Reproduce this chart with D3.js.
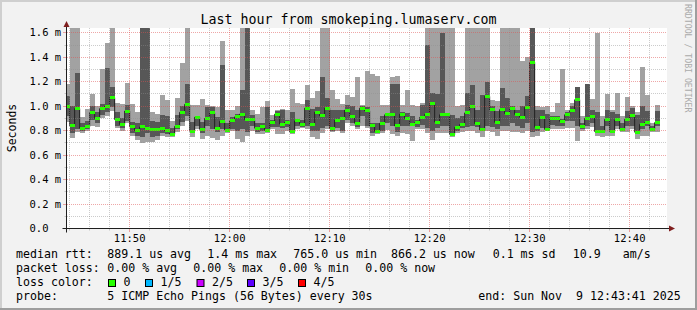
<!DOCTYPE html>
<html>
<head>
<meta charset="utf-8">
<script src="https://cdn.jsdelivr.net/npm/d3@7"></script>
<style>
  html, body { margin: 0; padding: 0; background: #f2f2f2; }
  svg { display: block; }
  text { font-family: "DejaVu Sans Mono", monospace; fill: #000; }
</style>
</head>
<body>
<div id="chart"></div>
<script>
// 5 sorted pings per 30s sample (ms), first sample ends 11:44:00
const ping1 = [
  0.87, 0.74, 0.79, 0.78, 0.80, 0.84, 0.83, 0.90, 0.92, 0.96,
  0.82, 0.80, 0.86, 0.76, 0.72, 0.70, 0.71, 0.71, 0.72, 0.76,
  0.75, 0.75, 0.79, 0.84, 0.88, 0.75, 0.81, 0.735, 0.76, 0.74,
  0.725, 0.76, 0.78, 0.80, 0.73, 0.71, 0.76, 0.80, 0.77, 0.77,
  0.78, 0.81, 0.77, 0.77, 0.80, 0.77, 0.81, 0.82, 0.81, 0.75,
  0.735, 0.78, 0.81, 0.79, 0.80, 0.78, 0.865, 0.84, 0.81, 0.84,
  0.825, 0.757, 0.77, 0.78, 0.805, 0.77, 0.757, 0.78, 0.77, 0.716,
  0.81, 0.81, 0.78, 0.725, 0.78, 0.78, 0.78, 0.75, 0.78, 0.79,
  0.80, 0.80, 0.78, 0.745, 0.80, 0.79, 0.76, 0.80, 0.80, 0.79,
  0.79, 0.78, 0.80, 0.75, 0.76, 0.79, 0.80, 0.81, 0.81, 0.81,
  0.82, 0.82, 0.716, 0.80, 0.81, 0.83, 0.76, 0.75, 0.76, 0.76,
  0.81, 0.79, 0.79, 0.81, 0.73, 0.76, 0.76, 0.79, 0.79
];
const ping2 = [
  0.92, 0.78, 0.81, 0.80, 0.81, 0.89, 0.86, 0.93, 0.95, 0.99,
  0.84, 0.82, 0.88, 0.78, 0.76, 0.75, 0.78, 0.75, 0.76, 0.78,
  0.77, 0.76, 0.81, 0.87, 0.92, 0.79, 0.84, 0.78, 0.84, 0.81,
  0.79, 0.81, 0.79, 0.81, 0.80, 0.81, 0.79, 0.84, 0.79, 0.80,
  0.785, 0.83, 0.83, 0.82, 0.83, 0.785, 0.84, 0.83, 0.84, 0.80,
  0.80, 0.82, 0.84, 0.80, 0.82, 0.80, 0.89, 0.86, 0.83, 0.92,
  0.84, 0.78, 0.78, 0.80, 0.865, 0.84, 0.79, 0.84, 0.84, 0.84,
  0.83, 0.85, 0.82, 0.80, 0.82, 0.84, 0.84, 0.76, 0.80, 0.82,
  0.83, 0.84, 0.83, 0.80, 0.84, 0.83, 0.81, 0.84, 0.84, 0.86,
  0.84, 0.82, 0.86, 0.79, 0.80, 0.82, 0.81, 0.85, 0.84, 0.84,
  0.88, 0.88, 0.84, 0.81, 0.84, 0.86, 0.79, 0.79, 0.84, 0.78,
  0.84, 0.80, 0.84, 0.84, 0.78, 0.81, 0.84, 0.80, 0.84
];
const median = [
  1.00, 0.84, 0.98, 0.82, 0.83, 0.95, 0.90, 0.98, 1.00, 1.07,
  0.89, 0.85, 0.96, 0.83, 0.80, 0.83, 0.82, 0.81, 0.81, 0.82,
  0.80, 0.77, 0.835, 0.95, 1.015, 0.795, 0.91, 0.81, 0.90, 0.946,
  0.816, 0.876, 0.805, 0.88, 0.913, 0.935, 0.89, 0.89, 0.82, 0.83,
  0.805, 0.865, 0.935, 0.854, 0.87, 0.79, 0.88, 0.854, 0.984, 0.85,
  0.95, 0.92, 0.984, 0.816, 0.886, 0.90, 0.968, 0.914, 0.86, 0.984,
  0.962, 0.838, 0.795, 0.86, 0.93, 0.93, 0.838, 0.935, 0.90, 0.85,
  0.865, 0.908, 0.933, 1.02, 0.87, 0.93, 0.935, 0.767, 0.826, 0.85,
  0.945, 0.995, 0.858, 0.806, 1.08, 0.97, 0.868, 0.972, 0.94, 0.982,
  0.933, 0.91, 0.989, 1.359, 0.828, 0.904, 0.81, 0.90, 0.90, 0.876,
  0.93, 0.967, 1.053, 0.835, 0.90, 0.918, 0.792, 0.792, 0.893, 0.794,
  0.888, 0.812, 0.893, 0.923, 0.787, 0.851, 0.867, 0.812, 0.866
];
const ping4 = [
  1.08, 1.00, 1.27, 0.86, 0.88, 1.00, 0.95, 1.02, 1.31, 1.16,
  0.95, 0.90, 1.01, 0.87, 0.86, 1.90, 1.80, 0.88, 0.87, 0.93,
  0.92, 0.82, 0.93, 1.00, 1.18, 0.87, 0.92, 0.87, 0.99, 0.99,
  0.91, 1.34, 0.86, 0.91, 0.94, 1.13, 1.80, 0.93, 0.865, 0.86,
  0.99, 0.89, 0.96, 0.97, 0.89, 0.95, 0.885, 0.885, 1.05, 0.98,
  0.99, 1.24, 1.07, 0.97, 0.97, 0.97, 1.008, 1.00, 0.97, 1.00,
  0.995, 0.865, 0.865, 0.92, 0.94, 1.18, 1.18, 0.95, 0.946, 0.92,
  0.89, 1.013, 1.50, 1.11, 1.10, 1.60, 0.94, 0.93, 0.90, 0.92,
  1.11, 1.17, 0.97, 1.095, 1.20, 1.00, 0.96, 1.15, 1.07, 1.00,
  0.97, 1.00, 1.08, 1.80, 0.97, 0.97, 0.94, 0.92, 0.92, 0.895,
  0.95, 1.00, 1.157, 0.865, 1.18, 0.97, 0.95, 0.84, 0.97, 0.95,
  0.94, 0.865, 0.96, 0.985, 0.93, 1.00, 0.96, 0.84, 0.96
];
const ping5 = [
  1.18, 1.85, 1.90, 0.91, 0.98, 1.10, 1.00, 1.30, 1.52, 1.75,
  1.03, 1.02, 1.19, 1.02, 0.95, 2.10, 2.00, 0.95, 0.94, 1.09,
  1.05, 0.88, 1.07, 1.35, 1.80, 1.01, 1.01, 1.06, 1.01, 1.00,
  0.99, 1.535, 0.97, 0.97, 1.00, 1.80, 1.90, 0.97, 0.94, 0.99,
  1.04, 0.93, 0.97, 0.975, 0.97, 1.14, 1.03, 1.02, 1.17, 1.07,
  1.12, 1.80, 1.80, 1.13, 1.06, 1.02, 1.095, 1.076, 1.235, 1.01,
  1.285, 1.26, 1.25, 1.01, 1.01, 1.235, 1.25, 1.01, 1.135, 1.01,
  1.00, 1.03, 1.80, 1.80, 1.80, 1.90, 1.80, 1.80, 1.00, 1.01,
  1.80, 1.80, 1.80, 1.80, 1.80, 1.05, 1.04, 1.80, 1.80, 1.80,
  1.80, 1.37, 1.40, 1.90, 1.00, 0.99, 1.00, 0.95, 1.03, 1.30,
  0.97, 1.03, 1.16, 0.92, 1.185, 1.06, 1.60, 0.92, 1.097, 0.97,
  1.11, 0.92, 1.076, 1.00, 0.95, 1.32, 1.095, 0.865, 1.01
];

const stepSeconds = 30;
const yTicks = [0, 0.2, 0.4, 0.6, 0.8, 1.0, 1.2, 1.4, 1.6];

const legendRows = [
  [[16, 'median rtt:'], [107.3, '889.1 us avg'], [207.3, '1.4 ms max'], [293.3, '765.0 us min'],
   [391, '866.2 us now'], [492.7, '0.1 ms sd'], [572.7, '10.9'], [622.7, 'am/s']],
  [[16, 'packet loss:'], [107.3, '0.00 % avg'], [193.3, '0.00 % max'], [279.3, '0.00 % min'],
   [365.3, '0.00 % now']],
  [[16, 'loss color:']],
  [[16, 'probe:'], [107.3, '5 ICMP Echo Pings (56 Bytes) every 30s'], [478.3, 'end: Sun Nov  9 12:43:41 2025']]
];
const lossLabels = ['0', '1/5', '2/5', '3/5', '4/5'];
const lossColors = ['#26ff00', '#00b8ff', '#cc00ff', '#5e00ff', '#ff0000'];
const lossX = [108.5, 145.5, 197, 247.5, 298.5];

const width = 697, height = 310;
const parseTime = d3.timeParse('%Y-%m-%d %H:%M:%S');
const endTime = parseTime('2025-11-09 12:43:41');
const startTime = d3.timeHour.offset(endTime, -1);
const firstSampleEnd = parseTime('2025-11-09 11:44:00');

const x = d3.scaleTime().domain([startTime, endTime]).range([66.5, 666.5]);
const y = d3.scaleLinear().domain([0, 1.635]).range([228.5, 28.5]);

const samples = median.map((m, i) => ({
  t0: d3.timeSecond.offset(firstSampleEnd, (i - 1) * stepSeconds),
  t1: d3.timeSecond.offset(firstSampleEnd, i * stepSeconds),
  p: [ping1[i], ping2[i], m, ping4[i], ping5[i]]
}));

const svg = d3.select('#chart').append('svg')
  .attr('width', width)
  .attr('height', height);

// background + 3d shade
svg.append('rect').attr('width', width).attr('height', height).attr('fill', '#f2f2f2');
svg.append('rect').attr('x', 0).attr('y', 0).attr('width', width).attr('height', 2).attr('fill', '#cfcfcf');
svg.append('rect').attr('x', 0).attr('y', 0).attr('width', 2).attr('height', height).attr('fill', '#cfcfcf');
svg.append('rect').attr('x', 0).attr('y', height - 2).attr('width', width).attr('height', 2).attr('fill', '#9e9e9e');
svg.append('rect').attr('x', width - 2).attr('y', 0).attr('width', 2).attr('height', height).attr('fill', '#9e9e9e');

// canvas
svg.append('rect')
  .attr('x', 67).attr('y', 28)
  .attr('width', 600).attr('height', 200)
  .attr('fill', '#ffffff');

svg.append('clipPath').attr('id', 'plotclip')
  .append('rect').attr('x', 67).attr('y', 28).attr('width', 600).attr('height', 200);

const plotG = svg.append('g').attr('clip-path', 'url(#plotclip)');

// smoke: outer band (ping1..ping5) and inner band (ping2..ping4)
plotG.selectAll('.smoke1')
  .data(samples)
  .enter()
  .append('rect')
  .attr('class', 'smoke1')
  .attr('x', d => x(d.t0))
  .attr('width', d => x(d.t1) - x(d.t0))
  .attr('y', d => y(d.p[4]))
  .attr('height', d => y(d.p[0]) - y(d.p[4]))
  .attr('fill', '#a2a2a2')
  .attr('shape-rendering', 'crispEdges');

plotG.selectAll('.smoke2')
  .data(samples)
  .enter()
  .append('rect')
  .attr('class', 'smoke2')
  .attr('x', d => x(d.t0))
  .attr('width', d => x(d.t1) - x(d.t0))
  .attr('y', d => y(d.p[3]))
  .attr('height', d => y(d.p[1]) - y(d.p[3]))
  .attr('fill', '#575757')
  .attr('shape-rendering', 'crispEdges');

// median step line
const linePts = samples.map(d => [x(d.t0), y(d.p[2])]);
const last = samples[samples.length - 1];
linePts.push([x(last.t1), y(last.p[2])]);

plotG.append('path')
  .attr('d', d3.line().curve(d3.curveStepAfter)(linePts))
  .attr('fill', 'none')
  .attr('stroke', '#202020')
  .attr('stroke-width', 1);

// loss coloured median band (all 0 loss)
plotG.selectAll('.med')
  .data(samples)
  .enter()
  .append('rect')
  .attr('class', 'med')
  .attr('x', d => x(d.t0))
  .attr('width', d => x(d.t1) - x(d.t0))
  .attr('y', d => y(d.p[2]) - 1.5)
  .attr('height', 3)
  .attr('fill', lossColors[0])
  .attr('shape-rendering', 'crispEdges');

// grid (drawn on top, like rrdtool)
const gridG = svg.append('g');
const minorCol = 'rgba(143,143,143,0.45)';
const majorCol = 'rgba(222,79,79,0.5)';

const majorTimes = d3.timeMinute.every(10).range(startTime, endTime);
const minorTimes = d3.timeMinute.every(2).range(startTime, endTime)
  .filter(t => t.getMinutes() % 10 !== 0);

const xPix = t => Math.round(x(t) - 0.5) + 0.5;
const yPix = v => Math.round(y(v) - 0.5) + 0.5;

gridG.selectAll('.vminor')
  .data(minorTimes)
  .enter()
  .append('line')
  .attr('x1', xPix).attr('x2', xPix)
  .attr('y1', 28).attr('y2', 228)
  .attr('stroke', minorCol)
  .attr('stroke-dasharray', '1,1');

gridG.selectAll('.vmajor')
  .data(majorTimes)
  .enter()
  .append('line')
  .attr('x1', xPix).attr('x2', xPix)
  .attr('y1', 28).attr('y2', 228)
  .attr('stroke', majorCol)
  .attr('stroke-dasharray', '1,1');

const minorVals = y.ticks(16).filter(v => v > 0 && Math.round(v * 10) % 2 !== 0);
const majorVals = yTicks.filter(v => v > 0);

gridG.selectAll('.hminor')
  .data(minorVals)
  .enter()
  .append('line')
  .attr('x1', 67).attr('x2', 667)
  .attr('y1', yPix).attr('y2', yPix)
  .attr('stroke', minorCol)
  .attr('stroke-dasharray', '1,1');

gridG.selectAll('.hmajor')
  .data(majorVals)
  .enter()
  .append('line')
  .attr('x1', 67).attr('x2', 667)
  .attr('y1', yPix).attr('y2', yPix)
  .attr('stroke', majorCol)
  .attr('stroke-dasharray', '1,1');

// small ticks on the axes
gridG.selectAll('.ytick')
  .data(y.ticks(16).filter(v => v > 0))
  .enter()
  .append('line')
  .attr('x1', d => (Math.round(d * 10) % 2 === 0) ? 63 : 64.5).attr('x2', 67)
  .attr('y1', yPix).attr('y2', yPix)
  .attr('stroke', d => (Math.round(d * 10) % 2 === 0) ? majorCol : minorCol);

gridG.selectAll('.xtick')
  .data(d3.timeMinute.every(2).range(startTime, endTime))
  .enter()
  .append('line')
  .attr('x1', xPix).attr('x2', xPix)
  .attr('y1', 228).attr('y2', d => d.getMinutes() % 10 === 0 ? 232 : 230.5)
  .attr('stroke', d => d.getMinutes() % 10 === 0 ? majorCol : minorCol);

// axes
svg.append('line')
  .attr('x1', 62.5).attr('x2', 670.5)
  .attr('y1', 228.5).attr('y2', 228.5)
  .attr('stroke', '#1f1f1f');
svg.append('line')
  .attr('x1', 66.5).attr('x2', 66.5)
  .attr('y1', 232.5).attr('y2', 24.5)
  .attr('stroke', '#1f1f1f');
svg.append('path')
  .attr('d', 'M669,225.5 L669,231.5 L675,228.5 Z')
  .attr('fill', '#801f1f');
svg.append('path')
  .attr('d', 'M63.5,27 L69.5,27 L66.5,21 Z')
  .attr('fill', '#801f1f');

// axis labels
svg.selectAll('.ylab')
  .data(yTicks)
  .enter()
  .append('text')
  .attr('x', 29.5)
  .attr('y', d => y(d) + 3.5)
  .attr('font-size', '10.5px')
  .text(d => d === 0 ? '0.0' : d3.format('.1f')(d) + ' m');

svg.selectAll('.xlab')
  .data(majorTimes)
  .enter()
  .append('text')
  .attr('x', d => x(d))
  .attr('y', 242)
  .attr('text-anchor', 'middle')
  .attr('font-size', '10.5px')
  .text(d3.timeFormat('%H:%M'));

svg.append('text')
  .attr('transform', 'translate(15.5, 128) rotate(-90)')
  .attr('text-anchor', 'middle')
  .attr('font-size', '11.5px')
  .text('Seconds');

// title
svg.append('text')
  .attr('x', 348.5)
  .attr('y', 24)
  .attr('text-anchor', 'middle')
  .attr('font-size', '13.3px')
  .text('Last hour from smokeping.lumaserv.com');

// watermark
svg.append('text')
  .attr('transform', 'translate(684.5, 4) rotate(90)')
  .attr('font-size', '8.2px')
  .style('fill', '#aaaaaa')
  .text('RRDTOOL / TOBI OETIKER');

// legend
legendRows.forEach((row, i) => {
  const by = 258.3 + i * 13.75;
  row.forEach(([lx, txt]) => {
    svg.append('text')
      .attr('x', lx)
      .attr('y', by)
      .attr('font-size', '11.6px')
      .attr('xml:space', 'preserve')
      .style('white-space', 'pre')
      .text(txt);
  });
});

const lossG = svg.append('g');
lossG.selectAll('rect')
  .data(lossColors)
  .enter()
  .append('rect')
  .attr('x', (d, i) => lossX[i])
  .attr('y', 279.5)
  .attr('width', 7)
  .attr('height', 7)
  .attr('fill', d => d)
  .attr('stroke', '#000');
lossG.selectAll('text')
  .data(lossLabels)
  .enter()
  .append('text')
  .attr('x', (d, i) => lossX[i] + 15)
  .attr('y', 258.3 + 2 * 13.75)
  .attr('font-size', '11.6px')
  .text(d => d);
</script>
</body>
</html>
